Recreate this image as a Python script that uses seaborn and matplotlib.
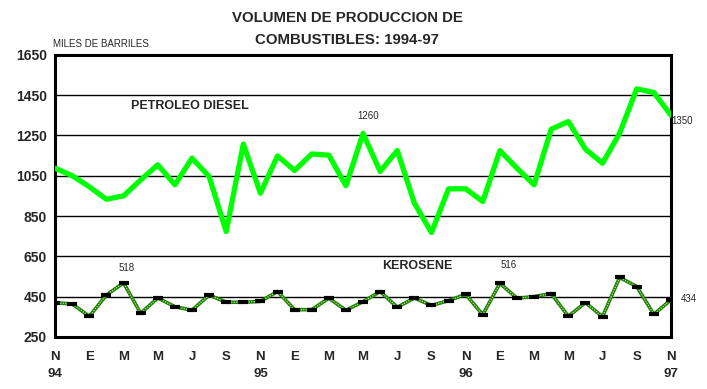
import matplotlib
matplotlib.use("Agg")
import matplotlib.pyplot as plt
import seaborn as sns
import pandas as pd

# monthly data, Nov 1994 .. Nov 1997 (thousand barrels)
MONTHS = ["N", "D", "E", "F", "M", "A", "M", "J", "J", "A", "S", "O"] * 3 + ["N"]
YEARS = {0: "94", 12: "95", 24: "96", 36: "97"}

DIESEL = [1087, 1050, 995, 933, 950, 1029, 1104, 1005, 1137, 1046, 773, 1207,
          963, 1148, 1076, 1158, 1152, 1000, 1260, 1071, 1175, 914, 768, 985,
          985, 922, 1175, 1087, 1005, 1281, 1319, 1182, 1112, 1261, 1481, 1463,
          1350]
KEROSENE = [420, 413, 352, 458, 518, 367, 443, 400, 382, 458, 422, 422,
            426, 475, 385, 385, 442, 382, 425, 475, 397, 443, 406, 430,
            461, 360, 516, 442, 450, 465, 352, 420, 350, 545, 500, 362,
            434]

Y_TICKS = [250, 450, 650, 850, 1050, 1250, 1450, 1650]

df = pd.DataFrame({"mes": range(len(DIESEL)), "diesel": DIESEL, "kerosene": KEROSENE})

sns.set_style("white")
plt.rcParams["font.family"] = ["Liberation Sans", "DejaVu Sans"]

fig = plt.figure(figsize=(7.07, 3.89), dpi=100)
ax = fig.add_axes([0.078, 0.134, 0.871, 0.725])

sns.lineplot(data=df, x="mes", y="diesel", color="#00ff00", linewidth=3.8, ax=ax, zorder=3)
# kerosene: dark green line with a light dotted core, black dash markers
sns.lineplot(data=df, x="mes", y="kerosene", color="#1e7d00", linewidth=2.6, ax=ax, zorder=3)
sns.lineplot(data=df, x="mes", y="kerosene", color="#a8e890", linewidth=0.9,
             linestyle=(0, (1, 1)), ax=ax, zorder=4)
ax.plot(df["mes"], df["kerosene"], linestyle="none", marker="_", markersize=7,
        markeredgewidth=3, color="black", zorder=5)

ax.set_xlim(0, len(DIESEL) - 1)
ax.set_ylim(250, 1650)
ax.set_yticks(Y_TICKS)
ax.set_yticklabels([str(v) for v in Y_TICKS], fontsize=10, fontweight="bold")
ax.set_xticks(range(len(DIESEL)))
xlabels = []
for i, m in enumerate(MONTHS):
    if i % 2:
        xlabels.append("")
    else:
        xlabels.append(m + ("\n" + YEARS[i] if i in YEARS else ""))
ax.set_xticklabels(xlabels, fontsize=9.5, fontweight="bold", linespacing=1.6)
ax.set_xlabel("")
ax.set_ylabel("")
ax.tick_params(axis="both", direction="out", length=4, width=1.2, color="black", pad=2)
ax.tick_params(axis="x", pad=6)

for v in Y_TICKS[1:-1]:
    ax.axhline(v, color="black", linewidth=1, zorder=1)
for s in ax.spines.values():
    s.set_linewidth(2.2)
    s.set_color("black")

# text annotations
ax.text(7.9, 1397, "PETROLEO DIESEL", fontsize=9, fontweight="bold", ha="center", va="center")
ax.text(21.2, 602, "KEROSENE", fontsize=9, fontweight="bold", ha="center", va="center")
ax.text(18.3, 1347, "1260", fontsize=7, ha="center", va="center")
ax.text(4.2, 592, "518", fontsize=7, ha="center", va="center")
ax.text(26.5, 607, "516", fontsize=7, ha="center", va="center")
ax.text(36.05, 1322, "1350", fontsize=7, ha="left", va="center", clip_on=False)
ax.text(36.55, 440, "434", fontsize=7, ha="left", va="center", clip_on=False)

fig.text(0.491, 0.953, "VOLUMEN DE PRODUCCION DE", fontsize=10.8, fontweight="bold", ha="center", va="center")
fig.text(0.491, 0.897, "COMBUSTIBLES: 1994-97", fontsize=10.8, fontweight="bold", ha="center", va="center")
fig.text(0.075, 0.887, "MILES DE BARRILES", fontsize=7, ha="left", va="center")

fig.savefig("out.png", dpi=100)
